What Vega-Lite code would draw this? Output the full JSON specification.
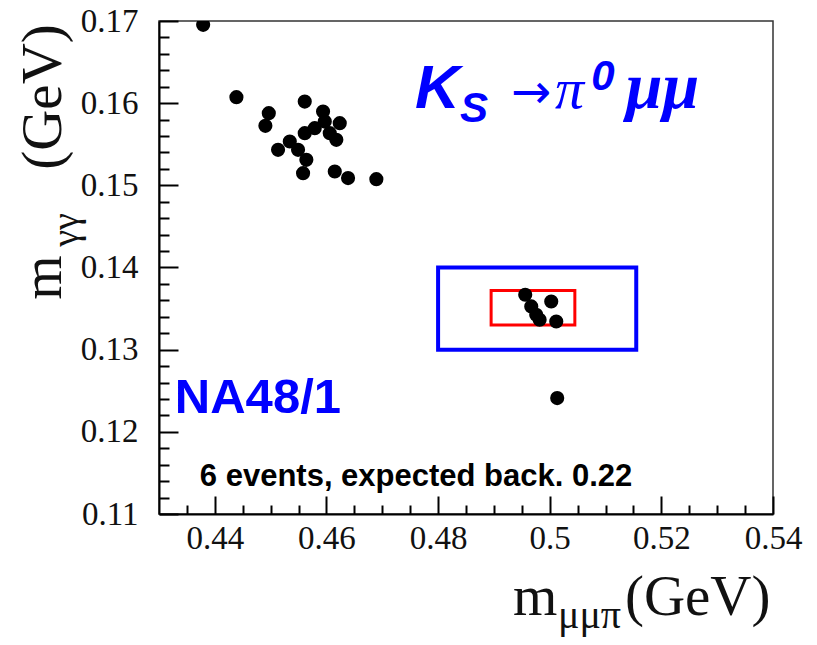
{
  "$schema": "https://vega.github.io/schema/vega-lite/v6.json",
  "width": 614,
  "height": 493,
  "autosize": {"type": "none"},
  "padding": {"left": 159, "top": 21, "right": 44, "bottom": 131},
  "background": "white",
  "config": {
    "view": {"stroke": "#333333", "strokeWidth": 1.5},
    "axis": {
      "grid": false,
      "domainColor": "#000000",
      "domainWidth": 2,
      "tickColor": "#000000",
      "tickWidth": 2,
      "labelFont": "Liberation Serif",
      "labelFontSize": 33,
      "labelColor": "#111111",
      "labelOverlap": false,
      "labelFlush": false,
      "labelBound": false
    }
  },
  "resolve": {"axis": {"x": "independent", "y": "independent"}},
  "datasets": {
    "events": [
      {"m_mumupi": 0.43791, "m_gg": 0.16953},
      {"m_mumupi": 0.44387, "m_gg": 0.16073},
      {"m_mumupi": 0.44967, "m_gg": 0.15878},
      {"m_mumupi": 0.44906, "m_gg": 0.15724},
      {"m_mumupi": 0.45611, "m_gg": 0.16019},
      {"m_mumupi": 0.45939, "m_gg": 0.15898},
      {"m_mumupi": 0.46238, "m_gg": 0.15757},
      {"m_mumupi": 0.46177, "m_gg": 0.15554},
      {"m_mumupi": 0.45133, "m_gg": 0.15432},
      {"m_mumupi": 0.45343, "m_gg": 0.15533},
      {"m_mumupi": 0.45611, "m_gg": 0.15635},
      {"m_mumupi": 0.4579, "m_gg": 0.15696},
      {"m_mumupi": 0.4597, "m_gg": 0.15776},
      {"m_mumupi": 0.46059, "m_gg": 0.15635},
      {"m_mumupi": 0.45491, "m_gg": 0.15432},
      {"m_mumupi": 0.4564, "m_gg": 0.1531},
      {"m_mumupi": 0.45581, "m_gg": 0.15148},
      {"m_mumupi": 0.46149, "m_gg": 0.15168},
      {"m_mumupi": 0.46387, "m_gg": 0.15088},
      {"m_mumupi": 0.46894, "m_gg": 0.15075},
      {"m_mumupi": 0.49561, "m_gg": 0.13668},
      {"m_mumupi": 0.49669, "m_gg": 0.13526},
      {"m_mumupi": 0.49758, "m_gg": 0.13425},
      {"m_mumupi": 0.49819, "m_gg": 0.13364},
      {"m_mumupi": 0.50027, "m_gg": 0.13586},
      {"m_mumupi": 0.50117, "m_gg": 0.13343},
      {"m_mumupi": 0.50134, "m_gg": 0.12411}
    ],
    "regions": [
      {"region": "control", "x1": 0.48, "x2": 0.5155, "y1": 0.13, "y2": 0.14},
      {"region": "signal", "x1": 0.4895, "x2": 0.5045, "y1": 0.133, "y2": 0.1372}
    ]
  },
  "layer": [
    {
      "data": {"name": "regions"},
      "mark": {"type": "rect", "filled": false, "clip": true},
      "encoding": {
        "x": {"field": "x1", "type": "quantitative", "scale": {"domain": [0.43, 0.54], "nice": false, "zero": false},
          "axis": {
            "orient": "bottom",
            "title": null,
            "domain": true,
            "values": [0.44, 0.46, 0.48, 0.5, 0.52, 0.54],
            "tickSize": -18,
            "labelExpr": "format(datum.value, '~g')",
            "labelFontSize": 33,
            "labelPadding": 26
          }
        },
        "x2": {"field": "x2"},
        "y": {"field": "y1", "type": "quantitative", "scale": {"domain": [0.11, 0.17], "nice": false, "zero": false},
          "axis": {
            "orient": "left",
            "title": null,
            "domain": true,
            "values": [0.11, 0.12, 0.13, 0.14, 0.15, 0.16, 0.17],
            "tickSize": -19,
            "labelExpr": "format(datum.value, '~g')",
            "labelFontSize": 33,
            "labelPadding": 40
          }
        },
        "y2": {"field": "y2"},
        "color": {"field": "region", "type": "nominal", "scale": {"domain": ["control", "signal"], "range": ["#0000ff", "#ff0000"]}, "legend": null},
        "strokeWidth": {"field": "region", "type": "nominal", "scale": {"domain": ["control", "signal"], "range": [4, 3]}, "legend": null}
      }
    },
    {
      "data": {"name": "events"},
      "mark": {"type": "circle", "size": 200, "color": "#000000", "opacity": 1, "clip": true},
      "encoding": {
        "x": {"field": "m_mumupi", "type": "quantitative",
          "axis": {
            "orient": "bottom",
            "title": null,
            "domain": false,
            "labels": false,
            "values": [0.435,0.445,0.45,0.455,0.465,0.47,0.475,0.485,0.49,0.495,0.505,0.51,0.515,0.525,0.53,0.535],
            "tickSize": -9
          }
        },
        "y": {"field": "m_gg", "type": "quantitative",
          "axis": {
            "orient": "left",
            "title": null,
            "domain": false,
            "labels": false,
            "values": [0.112,0.114,0.116,0.118,0.122,0.124,0.126,0.128,0.132,0.134,0.136,0.138,0.142,0.144,0.146,0.148,0.152,0.154,0.156,0.158,0.162,0.164,0.166,0.168],
            "tickSize": -10
          }
        }
      }
    },
    {
      "data": {"values": [{}]},
      "mark": {"type": "text", "text": "K", "font": "Liberation Sans", "fontWeight": "bold", "fontStyle": "italic", "fontSize": 62, "color": "#0000ff", "align": "left", "baseline": "alphabetic"},
      "encoding": {"x": {"datum": 0.47586, "type": "quantitative", "axis": null}, "y": {"datum": 0.15943, "type": "quantitative", "axis": null}}
    },
    {
      "data": {"values": [{}]},
      "mark": {"type": "text", "text": "S", "font": "Liberation Sans", "fontWeight": "bold", "fontStyle": "italic", "fontSize": 42, "color": "#0000ff", "align": "left", "baseline": "alphabetic"},
      "encoding": {"x": {"datum": 0.48392, "type": "quantitative", "axis": null}, "y": {"datum": 0.15772, "type": "quantitative", "axis": null}}
    },
    {
      "data": {"values": [{}]},
      "mark": {"type": "text", "text": "→", "font": "DejaVu Sans", "fontSize": 48, "color": "#0000ff", "align": "left", "baseline": "alphabetic"},
      "encoding": {"x": {"datum": 0.49305, "type": "quantitative", "axis": null}, "y": {"datum": 0.1594, "type": "quantitative", "axis": null}}
    },
    {
      "data": {"values": [{}]},
      "mark": {"type": "text", "text": "π", "font": "Liberation Serif", "fontStyle": "italic", "fontSize": 58, "color": "#0000ff", "align": "left", "baseline": "alphabetic"},
      "encoding": {"x": {"datum": 0.50093, "type": "quantitative", "axis": null}, "y": {"datum": 0.15943, "type": "quantitative", "axis": null}}
    },
    {
      "data": {"values": [{}]},
      "mark": {"type": "text", "text": "0", "font": "Liberation Sans", "fontWeight": "bold", "fontStyle": "italic", "fontSize": 42, "color": "#0000ff", "align": "left", "baseline": "alphabetic"},
      "encoding": {"x": {"datum": 0.50745, "type": "quantitative", "axis": null}, "y": {"datum": 0.16162, "type": "quantitative", "axis": null}}
    },
    {
      "data": {"values": [{}]},
      "mark": {"type": "text", "text": "μμ", "font": "Liberation Serif", "fontStyle": "italic", "fontWeight": "bold", "fontSize": 66, "color": "#0000ff", "align": "left", "baseline": "alphabetic"},
      "encoding": {"x": {"datum": 0.51364, "type": "quantitative", "axis": null}, "y": {"datum": 0.15943, "type": "quantitative", "axis": null}}
    },
    {
      "data": {"values": [{}]},
      "mark": {"type": "text", "text": "NA48/1", "font": "Liberation Sans", "fontWeight": "bold", "fontSize": 49, "color": "#0000ff", "align": "left", "baseline": "alphabetic"},
      "encoding": {"x": {"datum": 0.43284, "type": "quantitative", "axis": null}, "y": {"datum": 0.12229, "type": "quantitative", "axis": null}}
    },
    {
      "data": {"values": [{}]},
      "mark": {"type": "text", "text": "6 events, expected back. 0.22", "font": "Liberation Sans", "fontWeight": "bold", "fontSize": 31, "color": "#000000", "align": "left", "baseline": "alphabetic"},
      "encoding": {"x": {"datum": 0.43731, "type": "quantitative", "axis": null}, "y": {"datum": 0.11336, "type": "quantitative", "axis": null}}
    },
    {
      "data": {"values": [{}]},
      "mark": {"type": "text", "text": "m", "font": "Liberation Serif", "fontSize": 57, "color": "#111111", "align": "left", "baseline": "alphabetic"},
      "encoding": {"x": {"datum": 0.49341, "type": "quantitative", "axis": null}, "y": {"datum": 0.09775, "type": "quantitative", "axis": null}}
    },
    {
      "data": {"values": [{}]},
      "mark": {"type": "text", "text": "μμπ", "font": "Liberation Serif", "fontSize": 40, "color": "#111111", "align": "left", "baseline": "alphabetic"},
      "encoding": {"x": {"datum": 0.50147, "type": "quantitative", "axis": null}, "y": {"datum": 0.09617, "type": "quantitative", "axis": null}}
    },
    {
      "data": {"values": [{}]},
      "mark": {"type": "text", "text": "(GeV)", "font": "Liberation Serif", "fontSize": 57, "color": "#111111", "align": "left", "baseline": "alphabetic"},
      "encoding": {"x": {"datum": 0.51347, "type": "quantitative", "axis": null}, "y": {"datum": 0.09775, "type": "quantitative", "axis": null}}
    },
    {
      "data": {"values": [{}]},
      "mark": {"type": "text", "text": "m", "angle": 270, "font": "Liberation Serif", "fontSize": 57, "color": "#111111", "align": "left", "baseline": "alphabetic"},
      "encoding": {"x": {"datum": 0.41248, "type": "quantitative", "axis": null}, "y": {"datum": 0.13607, "type": "quantitative", "axis": null}}
    },
    {
      "data": {"values": [{}]},
      "mark": {"type": "text", "text": "γγ", "angle": 270, "font": "Liberation Serif", "fontSize": 38, "color": "#111111", "align": "left", "baseline": "alphabetic"},
      "encoding": {"x": {"datum": 0.41552, "type": "quantitative", "axis": null}, "y": {"datum": 0.14252, "type": "quantitative", "axis": null}}
    },
    {
      "data": {"values": [{}]},
      "mark": {"type": "text", "text": "(GeV)", "angle": 270, "font": "Liberation Serif", "fontSize": 57, "color": "#111111", "align": "left", "baseline": "alphabetic"},
      "encoding": {"x": {"datum": 0.41248, "type": "quantitative", "axis": null}, "y": {"datum": 0.15189, "type": "quantitative", "axis": null}}
    }
  ]
}
